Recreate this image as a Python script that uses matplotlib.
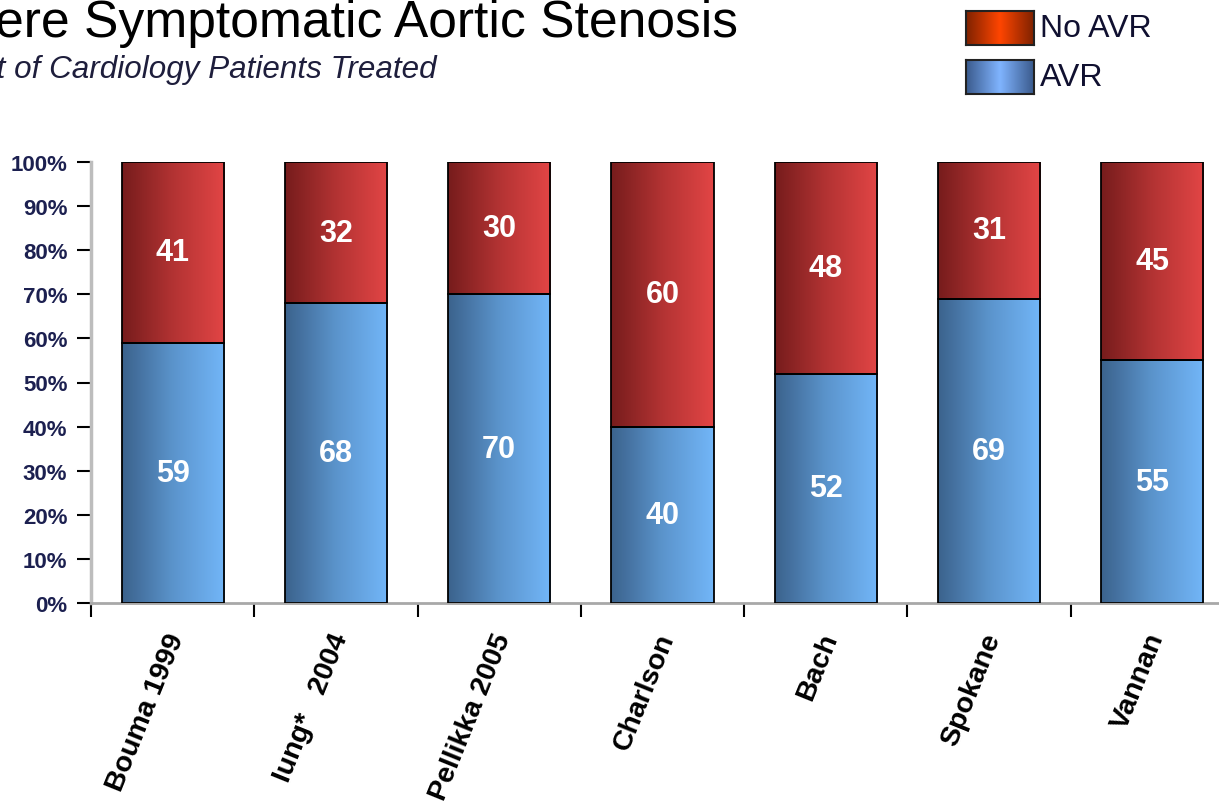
import numpy as np
import matplotlib
matplotlib.use('Agg')
from matplotlib import pyplot as plt
from matplotlib.colors import LinearSegmentedColormap
from matplotlib.transforms import ScaledTranslation

plt.rcParams['font.family'] = ['Liberation Sans', 'DejaVu Sans']

studies = ['Bouma 1999', 'Iung*   2004', 'Pellikka 2005', 'Charlson', 'Bach', 'Spokane', 'Vannan']
avr = [59, 68, 70, 40, 52, 69, 55]
no_avr = [41, 32, 30, 60, 48, 31, 45]
yticks = [0, 10, 20, 30, 40, 50, 60, 70, 80, 90, 100]

blue_cm = LinearSegmentedColormap.from_list('blue', ['#3b628c', '#5b94cc', '#72b6f8'])
red_cm = LinearSegmentedColormap.from_list('red', ['#761c1c', '#b33333', '#e24545'])
grad = np.linspace(0, 1, 256).reshape(1, -1)

fig = plt.figure(figsize=(12.19, 8.12), dpi=100)
ax = fig.add_axes([91 / 1219, 208 / 812, 1143 / 1219, 441 / 812])

x = np.arange(len(studies))
b1 = ax.bar(x, avr, width=0.625, color='none', edgecolor='black', linewidth=1.3, zorder=3)
b2 = ax.bar(x, no_avr, bottom=avr, width=0.625, color='none', edgecolor='black', linewidth=1.3, zorder=3)

# fill every bar with a left-to-right gradient
for bars, cm in [(b1, blue_cm), (b2, red_cm)]:
    for p in bars:
        x0, y0 = p.get_x(), p.get_y()
        im = ax.imshow(grad, cmap=cm, aspect='auto', interpolation='bicubic',
                       extent=[x0, x0 + p.get_width(), y0, y0 + p.get_height()], zorder=2)
        im.set_clip_path(p)

for i in range(len(studies)):
    ax.text(x[i], avr[i] / 2, str(avr[i]), ha='center', va='center',
            color='white', fontsize=22, fontweight='bold', zorder=4)
    ax.text(x[i], avr[i] + no_avr[i] / 2, str(no_avr[i]), ha='center', va='center',
            color='white', fontsize=22, fontweight='bold', zorder=4)

ax.set_xlim(-0.5, len(studies) - 0.5)
ax.set_ylim(0, 100)
ax.set_yticks(yticks)
ax.set_yticklabels([f'{t}%' for t in yticks], fontsize=16, fontweight='bold', color='#1c2050')
ax.set_xticks(np.arange(-0.5, len(studies), 1))
ax.set_xticklabels([])
ax.tick_params(axis='both', direction='out', length=10, width=1.5, color='black')
ax.tick_params(axis='y', pad=7)

for s in ['top', 'right']:
    ax.spines[s].set_visible(False)
ax.spines['left'].set_color('#bdbdbd')
ax.spines['left'].set_linewidth(2.5)
ax.spines['bottom'].set_color('#a8a8a8')
ax.spines['bottom'].set_linewidth(2)

# rotated study names under each bar
off = ScaledTranslation(5 / 100, -31 / 100, fig.dpi_scale_trans)
for i, name in enumerate(studies):
    ax.text(x[i], 0, name, transform=ax.transData + off, rotation=68,
            rotation_mode='anchor', ha='right', va='center',
            fontsize=20.5, fontweight='bold', color='black')

fig.text(738 / 1219, 1 - 37 / 812, 'Severe Symptomatic Aortic Stenosis',
         ha='right', va='baseline', fontsize=37.2, color='black')
fig.text(437 / 1219, 1 - 78 / 812, 'Percent of Cardiology Patients Treated',
         ha='right', va='baseline', fontsize=22.6, style='italic', color='#1e1e3c')

# legend with reflected gradient swatches
legend = [('No AVR', ['#7e2200', '#ff4500', '#7e2200'], 12),
          ('AVR', ['#3a5a8c', '#80b4ff', '#3a5a8c'], 61)]
for label, cols, top in legend:
    lax = fig.add_axes([966 / 1219, 1 - (top + 34) / 812, 68 / 1219, 34 / 812])
    lax.imshow(grad, cmap=LinearSegmentedColormap.from_list(label, cols),
               aspect='auto', interpolation='bicubic')
    lax.set_xticks([])
    lax.set_yticks([])
    for s in lax.spines.values():
        s.set_linewidth(1.5)
        s.set_color('#222222')
    fig.text(1040 / 1219, 1 - (top + 17) / 812, label, ha='left', va='center',
             fontsize=23, color='#101030')

plt.savefig('out.png', dpi=100)
